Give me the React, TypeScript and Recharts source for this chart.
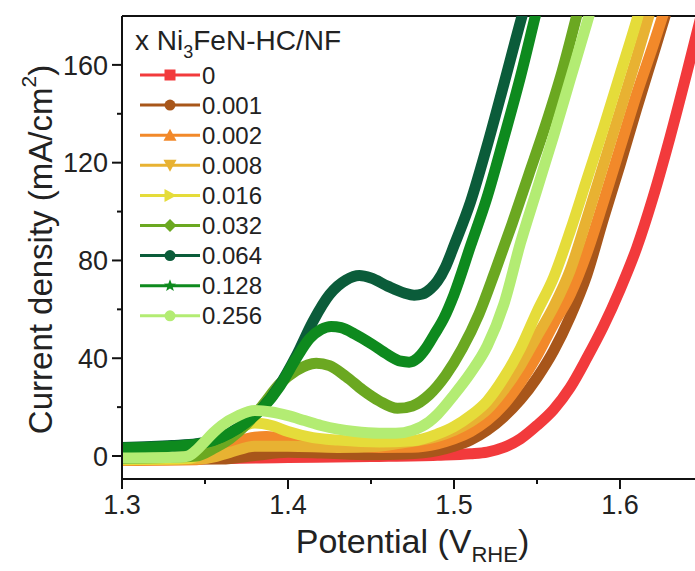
import React from 'react';
import { LineChart, Line, XAxis, YAxis, ReferenceLine, Legend, Label } from 'recharts';

const FONT = '"Liberation Sans", Arial, sans-serif';

const seriesNames = ['0', '0.001', '0.002', '0.008', '0.016', '0.032', '0.064', '0.128', '0.256'];
const seriesColors = ['#F23A3C', '#A8561A', '#F2892A', '#E8B232', '#E5DC3A', '#6BA821', '#0B5C3A', '#0E8A1E', '#B3EC73'];
const seriesMarkers = ['square', 'circle', 'triUp', 'triDown', 'triRight', 'diamond', 'circle', 'star', 'circle'];

// [potential V_RHE, current density mA/cm2]
const s0: [number, number][] = [[1.30, -1], [1.35, -1], [1.40, -0.6], [1.45, -0.2], [1.49, 0.3], [1.51, 0.9], [1.52, 1.6], [1.53, 3.5], [1.54, 7], [1.55, 12.5], [1.56, 19], [1.57, 28], [1.58, 40], [1.59, 53], [1.60, 68], [1.61, 85], [1.62, 106], [1.63, 130], [1.64, 156], [1.65, 183]];
const s1: [number, number][] = [[1.30, -1.5], [1.36, -1.2], [1.38, 0.2], [1.40, 1.5], [1.42, 1.2], [1.45, 0.5], [1.47, 0.8], [1.49, 2.2], [1.50, 4], [1.51, 6.5], [1.52, 10.5], [1.53, 16], [1.54, 23], [1.55, 32], [1.56, 43], [1.57, 57], [1.58, 74], [1.59, 97], [1.60, 119], [1.61, 142], [1.62, 164], [1.63, 186], [1.635, 196]];
const s2: [number, number][] = [[1.30, -1.8], [1.345, -1.5], [1.355, 0], [1.365, 4], [1.375, 7], [1.387, 8], [1.40, 7], [1.415, 5.5], [1.43, 4.5], [1.455, 3.5], [1.475, 3.6], [1.49, 5], [1.50, 7], [1.51, 10], [1.52, 14.5], [1.53, 21], [1.54, 30], [1.55, 41], [1.56, 54], [1.57, 66], [1.58, 83], [1.59, 104], [1.60, 126], [1.61, 148], [1.62, 168], [1.63, 189], [1.635, 199]];
const s3: [number, number][] = [[1.30, -1.5], [1.35, -1], [1.365, 1.5], [1.38, 4], [1.40, 4], [1.43, 3.5], [1.455, 4], [1.47, 5.5], [1.49, 8], [1.50, 10.5], [1.51, 14], [1.52, 19], [1.53, 27], [1.54, 37], [1.55, 49], [1.56, 61], [1.57, 76], [1.58, 97], [1.59, 119], [1.60, 141], [1.61, 163], [1.62, 186], [1.625, 197]];
const s4: [number, number][] = [[1.30, -1.5], [1.34, -1], [1.35, 1.5], [1.36, 6], [1.37, 11], [1.38, 13.5], [1.39, 12.5], [1.40, 10], [1.415, 7.5], [1.43, 6.5], [1.455, 5.7], [1.475, 6.2], [1.49, 9], [1.50, 12], [1.51, 16.5], [1.52, 22.5], [1.53, 32], [1.54, 44], [1.55, 59], [1.56, 73], [1.57, 92], [1.58, 113], [1.59, 134], [1.60, 156], [1.61, 178], [1.615, 190]];
const s5: [number, number][] = [[1.30, -1], [1.345, 0], [1.355, 3], [1.365, 7], [1.375, 13], [1.385, 21], [1.395, 29.5], [1.405, 35], [1.417, 38], [1.425, 37], [1.435, 32.5], [1.445, 27], [1.455, 22.5], [1.466, 19.5], [1.475, 20.5], [1.485, 25], [1.495, 33], [1.505, 44], [1.515, 58], [1.525, 76], [1.535, 95], [1.545, 115], [1.555, 135], [1.565, 157], [1.575, 183]];
const s6: [number, number][] = [[1.30, 3.5], [1.33, 4.3], [1.345, 5], [1.355, 6.5], [1.365, 9.5], [1.375, 14], [1.385, 20], [1.395, 29], [1.405, 41], [1.415, 55], [1.425, 66], [1.435, 72], [1.443, 73.8], [1.45, 72.8], [1.46, 69.5], [1.47, 66.7], [1.476, 65.8], [1.481, 66.3], [1.486, 68.5], [1.49, 71.5], [1.495, 77.5], [1.50, 86], [1.51, 104], [1.52, 127], [1.53, 152], [1.541, 180], [1.546, 192]];
const s7: [number, number][] = [[1.30, 3.3], [1.33, 4], [1.345, 4.8], [1.355, 6.3], [1.365, 9.3], [1.375, 13.8], [1.385, 19.8], [1.395, 28.5], [1.405, 40], [1.413, 48], [1.42, 51.8], [1.426, 53], [1.432, 52.5], [1.44, 50], [1.45, 46], [1.46, 41.5], [1.468, 38.8], [1.473, 38.4], [1.478, 40], [1.483, 44], [1.488, 49.5], [1.494, 56.5], [1.50, 66], [1.51, 86], [1.52, 106], [1.53, 130], [1.54, 155], [1.549, 180], [1.553, 191]];
const s8: [number, number][] = [[1.30, -0.8], [1.335, -0.5], [1.34, 0], [1.345, 2.5], [1.35, 6], [1.355, 9.5], [1.36, 12.5], [1.37, 16.5], [1.38, 18.6], [1.39, 18], [1.40, 16.5], [1.41, 14.5], [1.42, 12.5], [1.43, 11], [1.44, 10], [1.455, 9.3], [1.465, 9.3], [1.475, 10.5], [1.485, 14], [1.49, 17], [1.50, 25], [1.51, 34], [1.52, 45], [1.53, 62], [1.54, 87], [1.55, 109], [1.56, 131], [1.57, 154], [1.58, 177], [1.586, 191]];

const seriesData = [s0, s1, s2, s3, s4, s5, s6, s7, s8];

const xTicks = [1.3, 1.35, 1.4, 1.45, 1.5, 1.55, 1.6];
const yTicks = [0, 20, 40, 60, 80, 100, 120, 140, 160];
const xDomain: [number, number] = [1.3, 1.6452];
const yDomain: [number, number] = [-9.4, 180];

const XTick = (props: any) => {
  const { x, y, payload } = props;
  const v = payload.value;
  const major = Math.abs(v * 10 - Math.round(v * 10)) < 1e-6;
  return (
    <g>
      <line x1={x} x2={x} y1={y} y2={y + (major ? 10 : 5)} stroke="#111" strokeWidth={2} />
      {major && (
        <text x={x} y={y + 35} textAnchor="middle" fontSize={27} fill="#222" fontFamily={FONT}>
          {v.toFixed(1)}
        </text>
      )}
    </g>
  );
};

const YTick = (props: any) => {
  const { x, y, payload } = props;
  const v = payload.value;
  const major = v % 40 === 0;
  return (
    <g>
      <line x1={x - (major ? 10 : 5)} x2={x} y1={y} y2={y} stroke="#111" strokeWidth={2} />
      {major && (
        <text x={x - 14} y={y} dy="0.36em" textAnchor="end" fontSize={27} fill="#222" fontFamily={FONT}>
          {v}
        </text>
      )}
    </g>
  );
};

const YLabel = (props: any) => {
  const vb = props.viewBox || { x: 0, y: 16, width: 122, height: 463 };
  const cx = vb.x + 40;
  const cy = vb.y + vb.height / 2 + 2;
  return (
    <text
      x={cx}
      y={cy}
      transform={`rotate(-90 ${cx} ${cy})`}
      textAnchor="middle"
      dominantBaseline="central"
      fontSize={33}
      fill="#222"
      fontFamily={FONT}
    >
      Current density (mA/cm<tspan dy={-12} fontSize={21}>2</tspan>
      <tspan dy={12}>)</tspan>
    </text>
  );
};

const XLabel = (props: any) => {
  const vb = props.viewBox || { x: 122, y: 479, width: 573, height: 92 };
  const cx = vb.x + vb.width / 2 + 4;
  const by = vb.y + 74;
  return (
    <text x={cx} y={by} textAnchor="middle" fontSize={34} fill="#222" fontFamily={FONT}>
      Potential (V<tspan dy={9} fontSize={22}>RHE</tspan>
      <tspan dy={-9}>)</tspan>
    </text>
  );
};

const Marker = ({ kind, cx, cy, color }: { kind: string; cx: number; cy: number; color: string }) => {
  const r = 5.5;
  switch (kind) {
    case 'square':
      return <rect x={cx - r} y={cy - r} width={2 * r} height={2 * r} fill={color} />;
    case 'triUp':
      return <polygon points={`${cx},${cy - r - 1} ${cx - r - 1},${cy + r} ${cx + r + 1},${cy + r}`} fill={color} />;
    case 'triDown':
      return <polygon points={`${cx},${cy + r + 1} ${cx - r - 1},${cy - r} ${cx + r + 1},${cy - r}`} fill={color} />;
    case 'triRight':
      return <polygon points={`${cx + r + 1},${cy} ${cx - r},${cy - r - 1} ${cx - r},${cy + r + 1}`} fill={color} />;
    case 'diamond':
      return <polygon points={`${cx},${cy - r - 1} ${cx + r + 1},${cy} ${cx},${cy + r + 1} ${cx - r - 1},${cy}`} fill={color} />;
    case 'star': {
      const pts: string[] = [];
      for (let k = 0; k < 10; k++) {
        const rr = k % 2 === 0 ? r + 1 : (r + 1) * 0.42;
        const a = -Math.PI / 2 + (k * Math.PI) / 5;
        pts.push(`${cx + rr * Math.cos(a)},${cy + rr * Math.sin(a)}`);
      }
      return <polygon points={pts.join(' ')} fill={color} />;
    }
    default:
      return <circle cx={cx} cy={cy} r={r} fill={color} />;
  }
};

const renderLegend = () => (
  <svg width={240} height={305} style={{ overflow: 'visible' }}>
    <text x={0} y={22} fontSize={28} fill="#222" fontFamily={FONT}>
      x Ni<tspan dy={8} fontSize={18}>3</tspan>
      <tspan dy={-8}>FeN-HC/NF</tspan>
    </text>
    {seriesNames.map((name, i) => {
      const cy = 47 + 30.1 * i;
      return (
        <g key={name}>
          <line x1={5} x2={65} y1={cy} y2={cy} stroke={seriesColors[i]} strokeWidth={3} />
          <Marker kind={seriesMarkers[i]} cx={35} cy={cy} color={seriesColors[i]} />
          <text x={67} y={cy} dy="0.36em" fontSize={24} fill="#222" fontFamily={FONT}>
            {name}
          </text>
        </g>
      );
    })}
  </svg>
);

export default function App() {
  return (
    <div style={{ position: 'absolute', left: 0, top: 0, width: 695, height: 571, background: '#fff' }}>
      <LineChart width={695} height={571} margin={{ top: 16, right: 0, bottom: 0, left: 0 }} style={{ fontFamily: FONT }}>
        <XAxis
          type="number"
          dataKey="v"
          domain={xDomain}
          allowDataOverflow
          ticks={xTicks}
          interval={0}
          tickSize={0}
          tickMargin={0}
          tickLine={false}
          tick={<XTick />}
          axisLine={{ stroke: '#111', strokeWidth: 2 }}
          height={92}
        >
          <Label content={<XLabel />} />
        </XAxis>
        <YAxis
          type="number"
          domain={yDomain}
          allowDataOverflow
          ticks={yTicks}
          interval={0}
          tickSize={0}
          tickMargin={0}
          tickLine={false}
          tick={<YTick />}
          axisLine={{ stroke: '#111', strokeWidth: 2 }}
          width={122}
        >
          <Label content={<YLabel />} />
        </YAxis>
        <ReferenceLine y={180} stroke="#111" strokeWidth={2} />
        {seriesData.map((pts, i) => (
          <Line
            key={seriesNames[i]}
            data={pts.map(([v, j]) => ({ v, j }))}
            dataKey="j"
            name={seriesNames[i]}
            type="monotone"
            stroke={seriesColors[i]}
            strokeWidth={11}
            strokeLinejoin="round"
            dot={false}
            activeDot={false}
            isAnimationActive={false}
          />
        ))}
        <Legend
          content={renderLegend}
          layout="vertical"
          align="center"
          verticalAlign="middle"
          wrapperStyle={{ left: 135, top: 28, width: 240, height: 305 }}
        />
      </LineChart>
    </div>
  );
}
